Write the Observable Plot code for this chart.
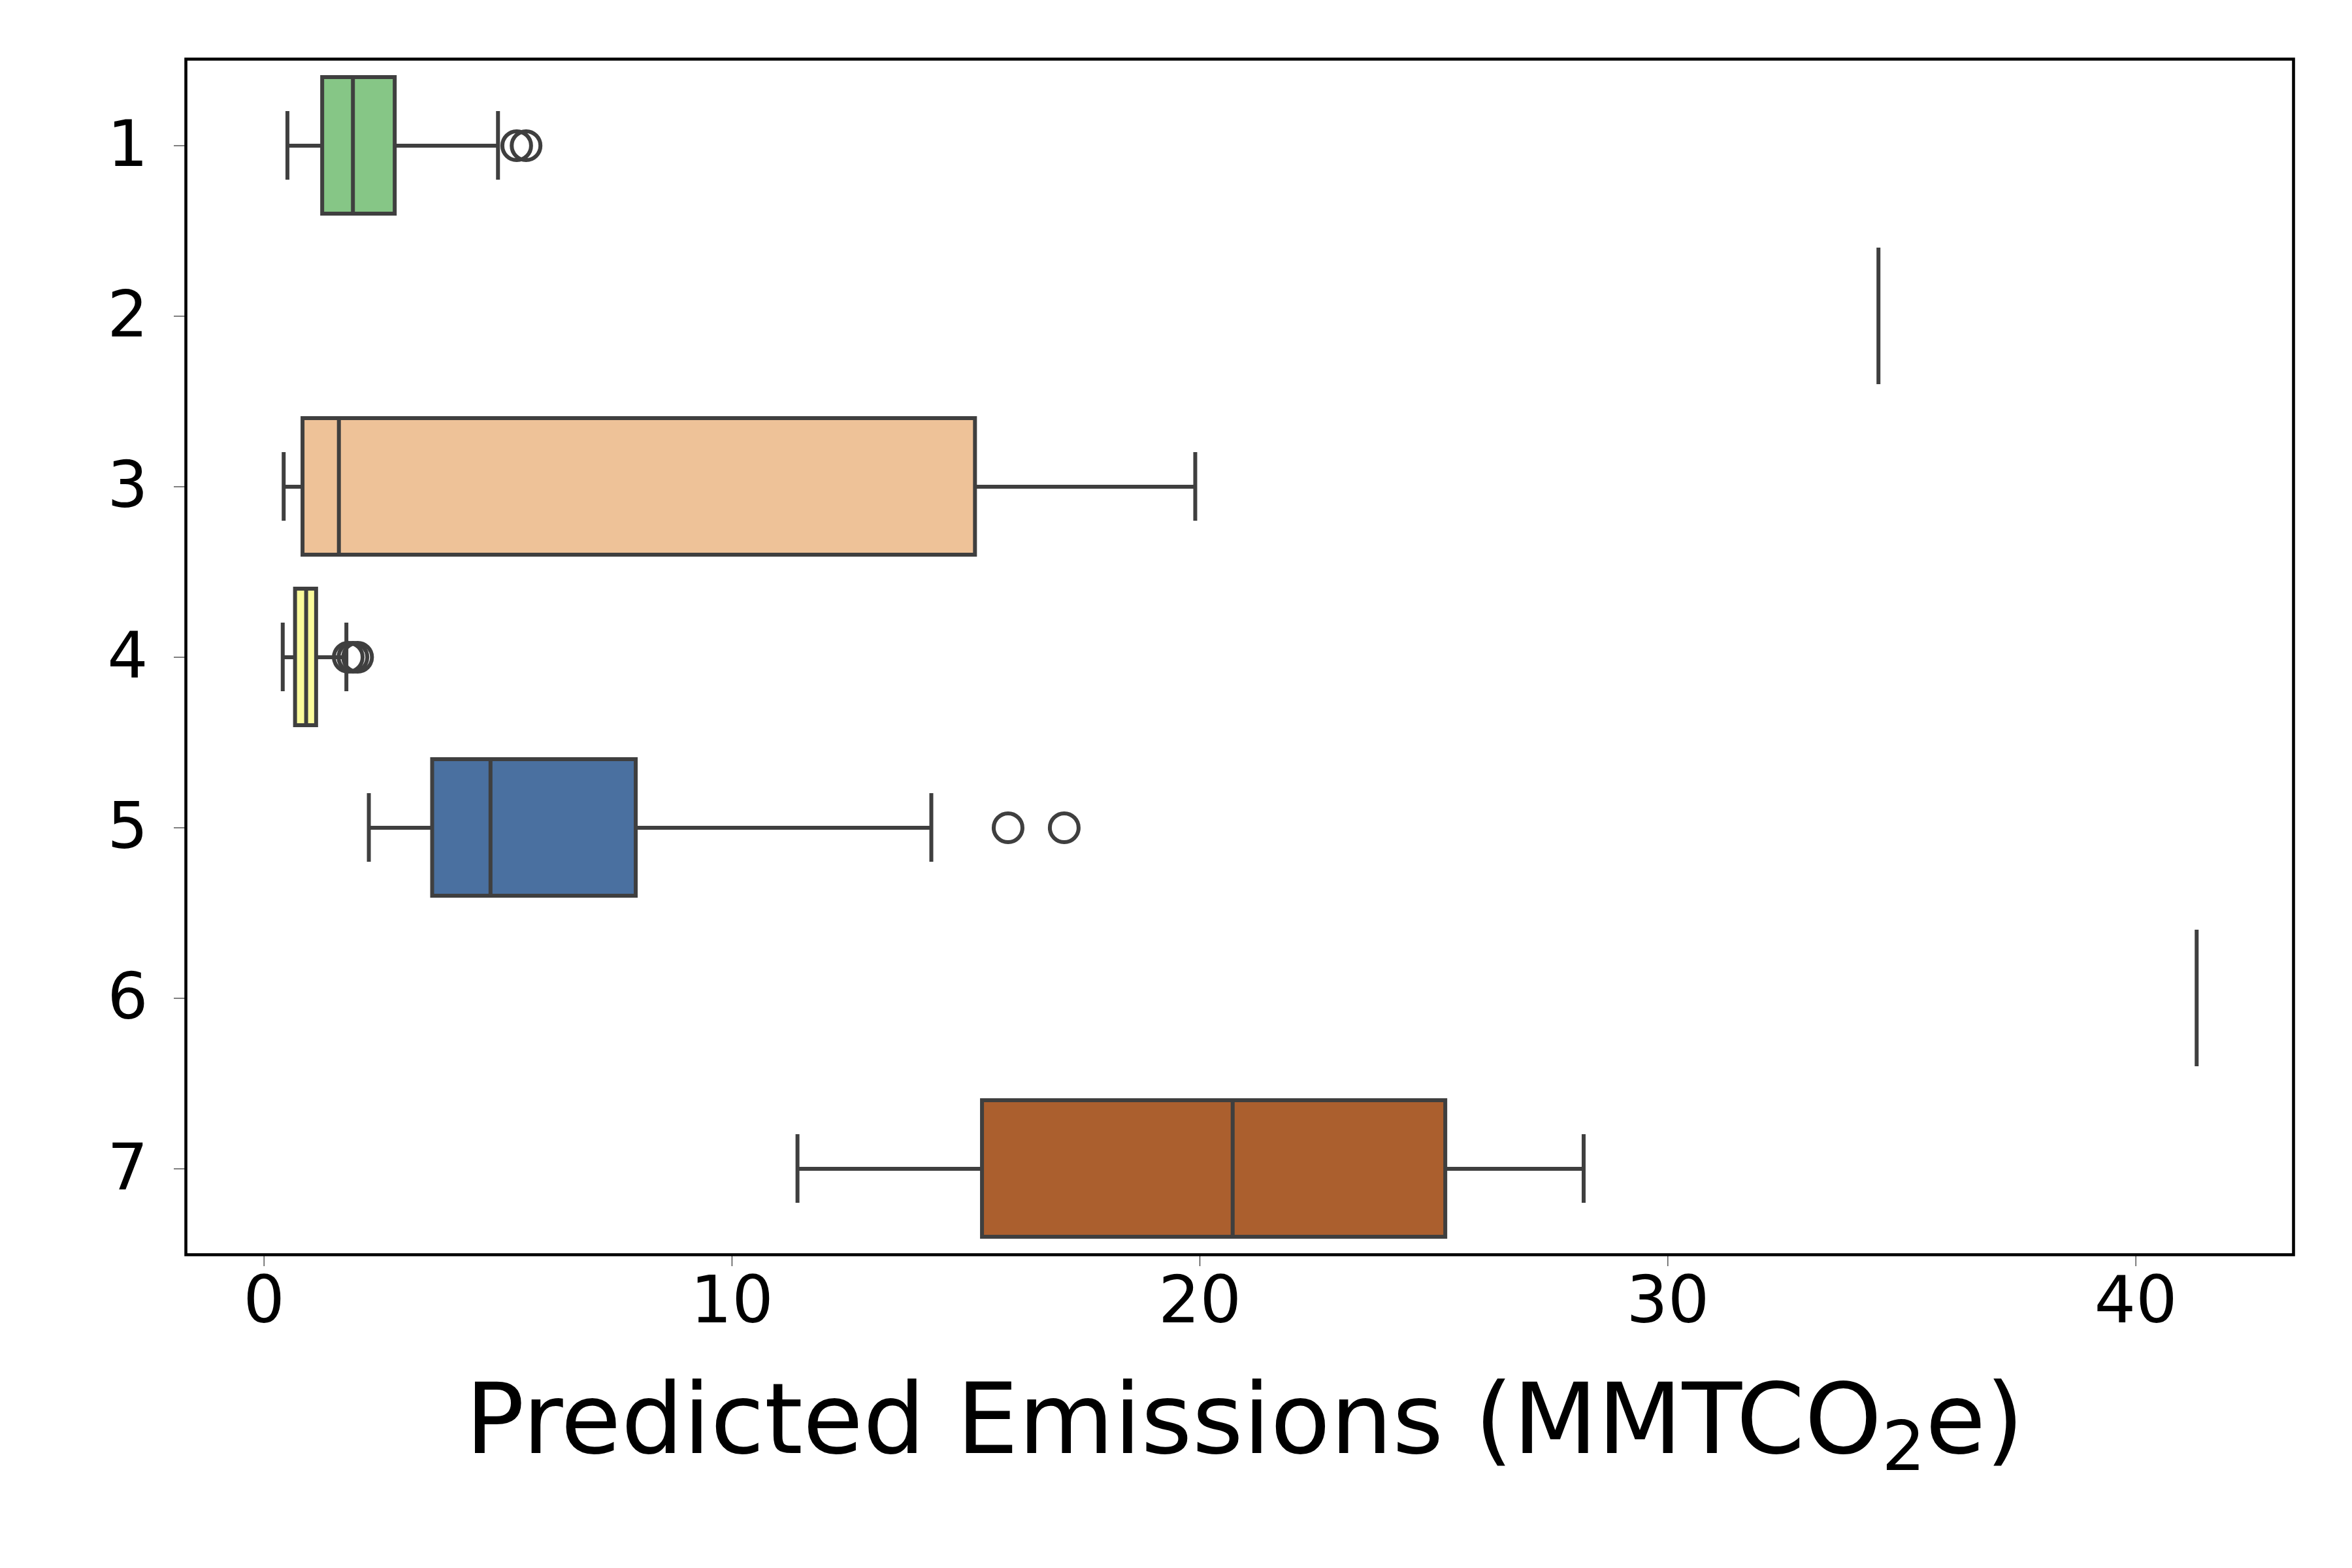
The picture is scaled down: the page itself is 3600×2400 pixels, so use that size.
<!DOCTYPE html>
<html><head><meta charset="utf-8">
<script src="https://cdn.jsdelivr.net/npm/d3@7"></script>
<script src="https://cdn.jsdelivr.net/npm/@observablehq/plot@0.6"></script>
<style>
body{margin:0;background:#fff;font-family:"DejaVu Sans";}
#label{position:absolute;left:0;width:3810px;text-align:center;top:2085px;font-size:150px;color:#000;}
</style></head><body>
<div id="plot-region"></div>
<div id="label">Predicted Emissions (MMTCO<sub style="font-size:0.7em;vertical-align:-0.25em">2</sub>e)</div>
<script>
const groups = ["1","2","3","4","5","6","7"];
const colors = ["#86c686","#beaed4","#eec298","#fcfc9c","#4a70a0","#d1348a","#ab5f2e"];
const lows   = [0.5, 34.5, 0.42, 0.4, 2.24, 41.3, 11.4];
const q1s    = [1.25, 34.5, 0.83, 0.67, 3.6, 41.3, 15.35];
const medians= [1.9, 34.5, 1.6, 0.9, 4.84, 41.3, 20.7];
const q3s    = [2.8, 34.5, 15.2, 1.12, 7.95, 41.3, 25.25];
const highs  = [5.0, 34.5, 19.9, 1.76, 14.26, 41.3, 28.2];
const outlierGroups = ["1","1","4","4","4","5","5"];
const outlierValues = [5.4, 5.6, 1.8, 1.9, 2.0, 15.9, 17.1];
const xTicks = [0, 10, 20, 30, 40];

const boxes = groups.map((g, i) => ({g, low: lows[i], q1: q1s[i], med: medians[i], q3: q3s[i], high: highs[i], color: colors[i]}));
const real = boxes.filter(d => d.q3 > d.q1);
const outliers = outlierGroups.map((g, i) => ({g, v: outlierValues[i]}));
const ink = "#3f3f3f";
const sw = 6;

const chart = Plot.plot({
  width: 3600, height: 2130,
  marginLeft: 284, marginRight: 90, marginTop: 90, marginBottom: 210,
  style: {fontFamily: "DejaVu Sans", background: "#fff"},
  x: {domain: [-1.67, 43.37]},
  y: {domain: groups, paddingInner: 0.2, paddingOuter: 0.1},
  marks: [
    Plot.ruleY(real, {x1: "low", x2: "q1", y: "g", stroke: ink, strokeWidth: sw}),
    Plot.ruleY(real, {x1: "q3", x2: "high", y: "g", stroke: ink, strokeWidth: sw}),
    Plot.tickX(real, {x: "low", y: "g", stroke: ink, strokeWidth: sw, insetTop: 52, insetBottom: 52}),
    Plot.tickX(real, {x: "high", y: "g", stroke: ink, strokeWidth: sw, insetTop: 52, insetBottom: 52}),
    Plot.barX(real, {x1: "q1", x2: "q3", y: "g", fill: "color", stroke: ink, strokeWidth: sw}),
    Plot.tickX(boxes, {x: "med", y: "g", stroke: ink, strokeWidth: sw}),
    Plot.dot(outliers, {x: "v", y: "g", r: 22, stroke: ink, strokeWidth: sw, fill: "none"}),
    Plot.frame({stroke: "#000", strokeWidth: 4.6}),
    Plot.axisX(xTicks, {tickSize: 18, tickPadding: 14, fontSize: 100, label: null, stroke: "#000", color: "#000"}),
    Plot.axisY({tickSize: 18, tickPadding: 40, fontSize: 98, label: null, color: "#000"})
  ]
});
document.getElementById("plot-region").append(chart);
</script>
</body></html>
